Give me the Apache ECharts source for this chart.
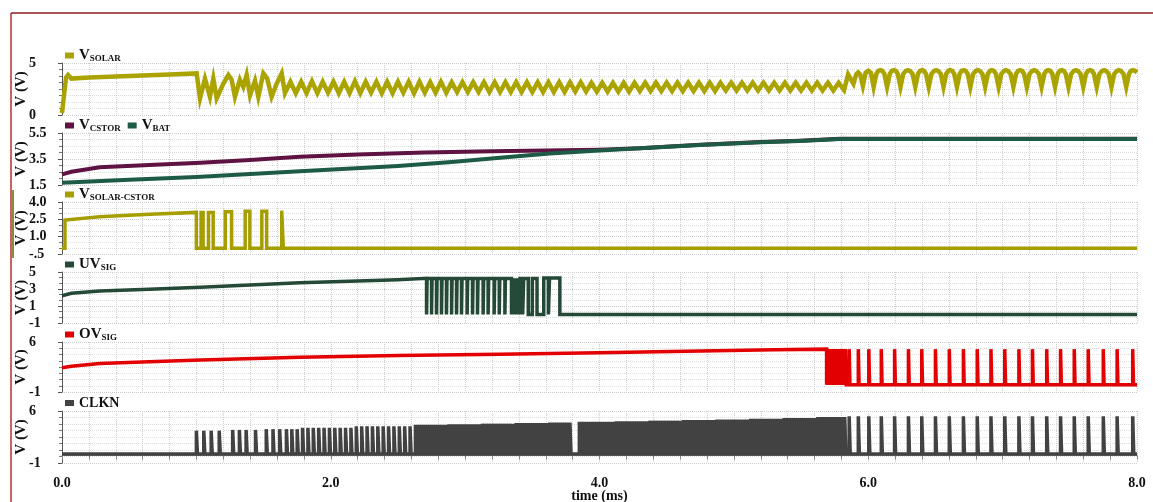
<!DOCTYPE html>
<html>
<head>
<meta charset="utf-8">
<script src="https://cdn.jsdelivr.net/npm/echarts@6/dist/echarts.min.js"></script>
<style>
  html, body { margin: 0; padding: 0; background: #fff; }
  #chart { width: 1153px; height: 502px; }
</style>
</head>
<body>
<div id="chart"></div>
<script>
// ---------- waveform data: time in ms, voltage in V ----------

// solar input: start-up, hysteretic hunting, steady ripple, then slower ripple
const vSolar = [
  [0.000, 0.2], [0.030, 3.6], [0.045, 3.85], [0.070, 3.5], [0.20, 3.6], [0.50, 3.75], [0.80, 3.9], [1.002, 4.0],
  [1.027, 1.6], [1.064, 3.5], [1.101, 1.75], [1.126, 3.5], [1.151, 1.6], [1.200, 3.0], [1.238, 3.85], [1.262, 3.4],
  [1.287, 1.75], [1.324, 3.4], [1.349, 2.7], [1.374, 3.85], [1.399, 1.9], [1.436, 3.3], [1.461, 1.75], [1.498, 4.0],
  [1.527, 3.5], [1.560, 1.75], [1.597, 3.0], [1.635, 4.0], [1.659, 2.1],
  [1.70, 3.2], [1.74, 2.1], [1.78, 3.2], [1.82, 2.1], [1.86, 3.25], [1.90, 2.1], [1.94, 3.2], [1.98, 2.15],
  [2.02, 3.2], [2.06, 2.1], [2.10, 3.2], [2.14, 2.1], [2.18, 3.25], [2.22, 2.1], [2.26, 3.2], [2.30, 2.15],
  [2.34, 3.2], [2.38, 2.1], [2.42, 3.2], [2.46, 2.1], [2.50, 3.2], [2.54, 2.15], [2.58, 3.2], [2.62, 2.1],
  [2.66, 3.2], [2.70, 2.15], [2.74, 3.15], [2.78, 2.15], [2.82, 3.2], [2.86, 2.15], [2.90, 3.15], [2.94, 2.2],
  [2.98, 3.15], [3.02, 2.2], [3.06, 3.15], [3.10, 2.2], [3.14, 3.15], [3.18, 2.2], [3.22, 3.15], [3.26, 2.2],
  [3.30, 3.15], [3.34, 2.2], [3.38, 3.15], [3.42, 2.2], [3.46, 3.15], [3.50, 2.2], [3.54, 3.15], [3.58, 2.2],
  [3.62, 3.15], [3.66, 2.2], [3.70, 3.15], [3.74, 2.2], [3.78, 3.15], [3.82, 2.25], [3.86, 3.15], [3.90, 2.25],
  [3.94, 3.1], [3.98, 2.25], [4.02, 3.1], [4.06, 2.25], [4.10, 3.1], [4.14, 2.25], [4.18, 3.1], [4.22, 2.25],
  [4.26, 3.1], [4.30, 2.3], [4.34, 3.1], [4.38, 2.3], [4.42, 3.1], [4.46, 2.3], [4.50, 3.1], [4.54, 2.3],
  [4.58, 3.1], [4.62, 2.3], [4.66, 3.1], [4.70, 2.3], [4.74, 3.1], [4.78, 2.3], [4.82, 3.1], [4.86, 2.3],
  [4.90, 3.1], [4.94, 2.35], [4.98, 3.1], [5.02, 2.35], [5.06, 3.1], [5.10, 2.35], [5.14, 3.1], [5.18, 2.35],
  [5.22, 3.1], [5.26, 2.35], [5.30, 3.1], [5.34, 2.35], [5.38, 3.1], [5.42, 2.35], [5.46, 3.1], [5.50, 2.35],
  [5.54, 3.1], [5.58, 2.35], [5.62, 3.1], [5.66, 2.35], [5.70, 3.1], [5.74, 2.35], [5.78, 3.1], [5.82, 2.4],
  [5.85, 3.9], [5.89, 3.0], [5.91, 3.9], [5.925, 4.1], [5.94, 3.9], [5.96, 2.8], [5.98, 4.05], [6.00, 4.25],
  [6.02, 4.05], [6.04, 2.7],
  [6.06, 3.95], [6.075, 4.25], [6.09, 4.32], [6.105, 4.25], [6.12, 3.95], [6.14, 2.7],
  [6.16, 3.95], [6.175, 4.25], [6.19, 4.32], [6.205, 4.25], [6.22, 3.95], [6.24, 2.7],
  [6.26, 3.95], [6.28, 4.25], [6.295, 4.32], [6.31, 4.25], [6.33, 3.95], [6.35, 2.7],
  [6.37, 3.95], [6.385, 4.25], [6.40, 4.32], [6.415, 4.25], [6.43, 3.95], [6.45, 2.7],
  [6.47, 3.95], [6.49, 4.25], [6.505, 4.32], [6.52, 4.25], [6.54, 3.95], [6.56, 2.7],
  [6.58, 3.95], [6.595, 4.25], [6.61, 4.32], [6.625, 4.25], [6.64, 3.95], [6.66, 2.7],
  [6.68, 3.95], [6.695, 4.25], [6.71, 4.32], [6.725, 4.25], [6.74, 3.95], [6.76, 2.7],
  [6.78, 3.95], [6.80, 4.25], [6.815, 4.32], [6.83, 4.25], [6.85, 3.95], [6.87, 2.7],
  [6.89, 3.95], [6.905, 4.25], [6.92, 4.32], [6.935, 4.25], [6.95, 3.95], [6.97, 2.7],
  [6.99, 3.95], [7.01, 4.25], [7.025, 4.32], [7.04, 4.25], [7.06, 3.95], [7.08, 2.7],
  [7.10, 3.95], [7.115, 4.25], [7.13, 4.32], [7.145, 4.25], [7.16, 3.95], [7.18, 2.7],
  [7.20, 3.95], [7.22, 4.25], [7.235, 4.32], [7.25, 4.25], [7.27, 3.95], [7.29, 2.7],
  [7.31, 3.95], [7.325, 4.25], [7.34, 4.32], [7.355, 4.25], [7.37, 3.95], [7.39, 2.7],
  [7.41, 3.95], [7.425, 4.25], [7.44, 4.32], [7.455, 4.25], [7.47, 3.95], [7.49, 2.7],
  [7.51, 3.95], [7.53, 4.25], [7.545, 4.32], [7.56, 4.25], [7.58, 3.95], [7.60, 2.7],
  [7.62, 3.95], [7.635, 4.25], [7.65, 4.32], [7.665, 4.25], [7.68, 3.95], [7.70, 2.7],
  [7.72, 3.95], [7.74, 4.25], [7.755, 4.32], [7.77, 4.25], [7.79, 3.95], [7.81, 2.7],
  [7.83, 3.95], [7.85, 4.25], [7.865, 4.32], [7.88, 4.25], [7.90, 3.95], [7.92, 2.7],
  [7.94, 3.95], [7.955, 4.25], [7.97, 4.32], [7.985, 4.25], [8.00, 4.1]
];

// storage capacitor and battery
const vCstor = [
  [0, 2.32], [0.07, 2.52], [0.28, 2.86], [0.65, 3.04], [1.03, 3.22], [1.40, 3.42], [1.77, 3.68], [2.2, 3.85],
  [2.7, 4.0], [3.2, 4.1], [3.6, 4.15], [4.0, 4.22], [4.3, 4.33], [4.75, 4.6], [5.2, 4.8], [5.49, 4.9],
  [5.79, 5.05], [8.0, 5.05]
];
const vBat = [
  [0, 1.68], [0.5, 1.9], [1.0, 2.12], [1.77, 2.55], [2.5, 2.96], [2.9, 3.27], [3.26, 3.6], [3.63, 3.92],
  [4.0, 4.15], [4.3, 4.33], [4.75, 4.58], [5.2, 4.78], [5.49, 4.88], [5.79, 5.04], [8.0, 5.04]
];

// solar-to-storage switch drive: ramp, then pulses [start, end, high]
const vscRamp = [[0, 0], [0.022, 0], [0.022, 2.44], [0.28, 2.73], [0.65, 2.93], [1.0, 3.1]];
const vscPulses = [
  [1.035, 1.050, 3.1], [1.090, 1.125, 3.1], [1.215, 1.262, 3.15],
  [1.363, 1.398, 3.2], [1.487, 1.523, 3.2], [1.635, 1.647, 3.25]
];

// under-voltage comparator output
const uvRamp = [
  [0, 2.21], [0.07, 2.49], [0.28, 2.76], [0.65, 2.96], [1.03, 3.2], [1.40, 3.47], [1.77, 3.74],
  [2.2, 3.95], [2.5, 4.1], [2.713, 4.25]
];
const uvDips = [
  2.713, 2.750, 2.787, 2.824, 2.861, 2.899, 2.936, 2.973, 3.015, 3.055, 3.092, 3.134, 3.171, 3.216, 3.254, 3.296,
  3.345, 3.360, 3.375, 3.390, 3.405
];
const uvTail = [
  [3.428, 4.25], [3.428, 0], [3.436, 0], [3.436, 4.25], [3.470, 4.25], [3.470, 0], [3.500, 0], [3.500, 4.25],
  [3.535, 4.25], [3.535, 0], [3.585, 0], [3.585, 4.3], [3.620, 4.3], [3.620, 0], [3.628, 0], [3.628, 4.3],
  [3.705, 4.3], [3.705, 0], [8.0, 0]
];

// over-voltage comparator output
const ovRamp = [
  [0, 2.4], [0.07, 2.6], [0.28, 3.0], [0.65, 3.24], [1.03, 3.48], [1.77, 3.86], [2.5, 4.1], [3.26, 4.3],
  [4.0, 4.5], [4.75, 4.74], [5.3, 4.9], [5.69, 5.0]
];
const ovBurst = [5.700, 5.713, 5.726, 5.739, 5.752, 5.765, 5.778, 5.791, 5.804, 5.817, 5.830];
const ovHigh = 5.0;

// clock: groups of [high level, pulse start times]
const clkGroups = [
  [3.35, [1.000, 1.055, 1.110, 1.170]],
  [3.45, [1.270, 1.320, 1.370, 1.440]],
  [3.55, [1.520, 1.570, 1.620, 1.670, 1.710, 1.750]],
  [3.75, [1.790, 1.830, 1.870, 1.910, 1.950, 1.990, 2.030, 2.070, 2.110, 2.150]],
  [3.95, [2.190, 2.230, 2.270, 2.310, 2.350, 2.390, 2.430, 2.470, 2.510, 2.550, 2.590]],
  [4.15, [2.630, 2.655, 2.680, 2.705, 2.730, 2.755, 2.780, 2.805, 2.830, 2.855]],
  [4.22, [2.880, 2.905, 2.930, 2.955, 2.980, 3.005, 3.030, 3.055, 3.080, 3.105]],
  [4.3, [3.130, 3.155, 3.180, 3.205, 3.230, 3.255, 3.280, 3.305, 3.330, 3.355]],
  [4.38, [3.380, 3.405, 3.430, 3.455, 3.480, 3.505, 3.530, 3.555, 3.580, 3.605]],
  [4.45, [3.630, 3.655, 3.680, 3.705, 3.730, 3.755, 3.780]],
  [4.55, [3.850, 3.875, 3.900, 3.925, 3.950, 3.975, 4.000, 4.025, 4.050, 4.075, 4.100]],
  [4.62, [4.125, 4.150, 4.175, 4.200, 4.225, 4.250, 4.275, 4.300, 4.325, 4.350]],
  [4.7, [4.375, 4.400, 4.425, 4.450, 4.475, 4.500, 4.525, 4.550, 4.575, 4.600]],
  [4.78, [4.625, 4.650, 4.675, 4.700, 4.725, 4.750, 4.775, 4.800, 4.825, 4.850]],
  [4.86, [4.875, 4.900, 4.925, 4.950, 4.975, 5.000, 5.025, 5.050, 5.075, 5.100]],
  [4.95, [5.125, 5.150, 5.175, 5.200, 5.225, 5.250, 5.275, 5.300, 5.325, 5.350]],
  [5.05, [5.375, 5.400, 5.425, 5.450, 5.475, 5.500, 5.525, 5.550, 5.575, 5.600]],
  [5.18, [5.625, 5.650, 5.675, 5.700, 5.725, 5.750, 5.775, 5.800, 5.825]]
];
// slow clock edges after the over-voltage trip (shared by CLKN and OVSIG)
const slowClock = [
  5.858, 5.926, 6.004, 6.097, 6.196, 6.299, 6.398, 6.500, 6.603, 6.708, 6.811,
  6.913, 7.016, 7.121, 7.222, 7.328, 7.431, 7.533, 7.637, 7.749, 7.852, 7.968
];
const slowClockHigh = 5.3;
const clkLow = 0.2;

// per-panel axis ranges and tick steps
const yMin  = [0, 1.5, -0.5, -1, -1, -1];
const yMax  = [5, 5.5, 4.0, 5, 6, 6];
const yStep = [5, 2, 1.5, 2, 7, 7];
const timeLabels = ['0.0', '2.0', '4.0', '6.0', '8.0'];

// ---------- build step traces ----------
const PULSE_W = 0.008, DIP_W = 0.004, OV_W = 0.006;

function pulseTrain(starts, width, lo, hi, out) {
  starts.forEach(t => { out.push([t, lo], [t, hi], [t + width, hi], [t + width, lo]); });
  return out;
}

const vscData = vscRamp.map(p => p.slice());
vscData.push([1.0, 0]);
vscPulses.forEach(([a, b, h]) => vscData.push([a, 0], [a, h], [b, h], [b, 0]));
vscData.push([8.0, 0]);

const uvData = uvRamp.map(p => p.slice());
uvDips.forEach(t => uvData.push([t, 4.25], [t, 0], [t + DIP_W, 0], [t + DIP_W, 4.25]));
uvTail.forEach(p => uvData.push(p.slice()));

const ovData = ovRamp.map(p => p.slice());
ovData.push([5.69, 0]);
pulseTrain(ovBurst, OV_W, 0, ovHigh, ovData);
pulseTrain(slowClock, OV_W, 0, ovHigh, ovData);
ovData.push([8.0, 0]);

const clkData = [[0, clkLow]];
clkGroups.forEach(([hi, ts]) => pulseTrain(ts, PULSE_W, clkLow, hi, clkData));
pulseTrain(slowClock, PULSE_W, clkLow, slowClockHigh, clkData);
clkData.push([8.0, clkLow]);

// ---------- chart ----------
const FONT = 'Liberation Serif';
const panelTop = [63, 133, 202, 272, 342, 411];
const panelHeight = [52, 52, 52, 51, 50, 52];
const minorSplit = [8, 4, 3, 3, 8, 8];

const traces = [
  { name: 'VSOLAR', panel: 0, color: '#aaa300', width: 4.5, data: vSolar },
  { name: 'VCSTOR', panel: 1, color: '#5e1342', width: 4, data: vCstor },
  { name: 'VBAT', panel: 1, color: '#1e5b46', width: 4, data: vBat },
  { name: 'VSOLAR-CSTOR', panel: 2, color: '#a69e00', width: 3.5, data: vscData },
  { name: 'UVSIG', panel: 3, color: '#244a37', width: 3.5, data: uvData },
  { name: 'OVSIG', panel: 4, color: '#e30000', width: 3.5, data: ovData },
  { name: 'CLKN', panel: 5, color: '#424242', width: 3.5, data: clkData }
];

const legendText = {
  'VSOLAR': '{m|V}{s|SOLAR}',
  'VCSTOR': '{m|V}{s|CSTOR}',
  'VBAT': '{m|V}{s|BAT}',
  'VSOLAR-CSTOR': '{m|V}{s|SOLAR-CSTOR}',
  'UVSIG': '{m|UV}{s|SIG}',
  'OVSIG': '{m|OV}{s|SIG}',
  'CLKN': '{c|CLKN}'
};

function yLabel(i, v) {
  if (i === 2) return Math.abs(v + 0.5) < 1e-9 ? '-.5' : v.toFixed(1);
  if (i === 1) return v.toFixed(1);
  return String(Math.round(v));
}

const grids = [], xAxes = [], yAxes = [], legends = [];
for (let i = 0; i < 6; i++) {
  const last = i === 5;
  grids.push({
    left: 62, right: 16, top: panelTop[i], height: panelHeight[i],
    containLabel: false, outerBoundsMode: 'none'
  });
  xAxes.push({
    type: 'value', gridIndex: i, min: 0, max: 8, interval: 0.2,
    axisLine: { show: last, lineStyle: { color: '#8a8a8a', width: 1 } },
    axisTick: { show: last, length: 4, lineStyle: { color: '#8a8a8a' } },
    axisLabel: {
      show: last, margin: 13, color: '#111', fontFamily: FONT, fontWeight: 'bold', fontSize: 14,
      formatter: v => {
        const k = Math.round(v / 2);
        return Math.abs(v - k * 2) < 1e-6 ? timeLabels[k] : '';
      }
    },
    splitLine: { show: true, lineStyle: { color: '#cdcdcd', type: 'dotted', width: 1 } },
    name: last ? 'time (ms)' : '', nameLocation: 'middle', nameGap: 26, nameMoveOverlap: false,
    nameTextStyle: { color: '#111', fontFamily: FONT, fontWeight: 'bold', fontSize: 14 }
  });
  yAxes.push({
    type: 'value', gridIndex: i, min: yMin[i], max: yMax[i], interval: yStep[i], offset: 5,
    name: 'V (V)', nameLocation: 'middle', nameRotate: 90, nameGap: 28, nameMoveOverlap: false,
    nameTextStyle: { color: '#111', fontFamily: FONT, fontWeight: 'bold', fontSize: 15 },
    axisLine: { show: true, lineStyle: { color: '#555', width: 1 } },
    axisTick: { show: true, length: 4, lineStyle: { color: '#555' } },
    minorTick: { show: true, splitNumber: minorSplit[i], length: 3, lineStyle: { color: '#777' } },
    axisLabel: {
      align: 'left', margin: 28, color: '#111', fontFamily: FONT, fontWeight: 'bold', fontSize: 14,
      formatter: v => yLabel(i, v)
    },
    splitLine: { show: true, lineStyle: { color: '#cdcdcd', type: 'dotted', width: 1 } },
    minorSplitLine: { show: true, lineStyle: { color: '#dedede', type: 'dotted', width: 1 } }
  });
  legends.push({
    left: 65, top: panelTop[i] - 15, padding: 0, orient: 'horizontal',
    icon: 'rect', itemWidth: 9, itemHeight: 6, itemGap: 7,
    selectedMode: false,
    data: traces.filter(t => t.panel === i).map(t => t.name),
    formatter: n => legendText[n],
    textStyle: {
      color: '#111', fontFamily: FONT, fontWeight: 'bold',
      rich: {
        m: { fontFamily: FONT, fontWeight: 'bold', fontSize: 15, color: '#111' },
        s: { fontFamily: FONT, fontWeight: 'bold', fontSize: 9, color: '#111', verticalAlign: 'bottom', padding: [3, 0, 0, 0] },
        c: { fontFamily: FONT, fontWeight: 'bold', fontSize: 14, color: '#111' }
      }
    }
  });
}

const series = traces.map(t => ({
  name: t.name, type: 'line', xAxisIndex: t.panel, yAxisIndex: t.panel,
  data: t.data, showSymbol: false, symbol: 'none', clip: true,
  color: t.color, lineStyle: { color: t.color, width: t.width, join: 'miter' },
  emphasis: { disabled: true }
}));

const chart = echarts.init(document.getElementById('chart'), null, { renderer: 'canvas' });
chart.setOption({
  backgroundColor: '#fff',
  animation: false,
  grid: grids, xAxis: xAxes, yAxis: yAxes, legend: legends, series: series,
  graphic: [
    { type: 'line', shape: { x1: 11, y1: 13, x2: 1153, y2: 13 }, style: { stroke: '#8e1d1d', lineWidth: 1.5 } },
    { type: 'line', shape: { x1: 11, y1: 13, x2: 11, y2: 502 }, style: { stroke: '#b52f2f', lineWidth: 1.5 } },
    { type: 'line', shape: { x1: 13, y1: 190, x2: 13, y2: 258 }, style: { stroke: '#8e8a3c', lineWidth: 2 } }
  ]
});
</script>
</body>
</html>
